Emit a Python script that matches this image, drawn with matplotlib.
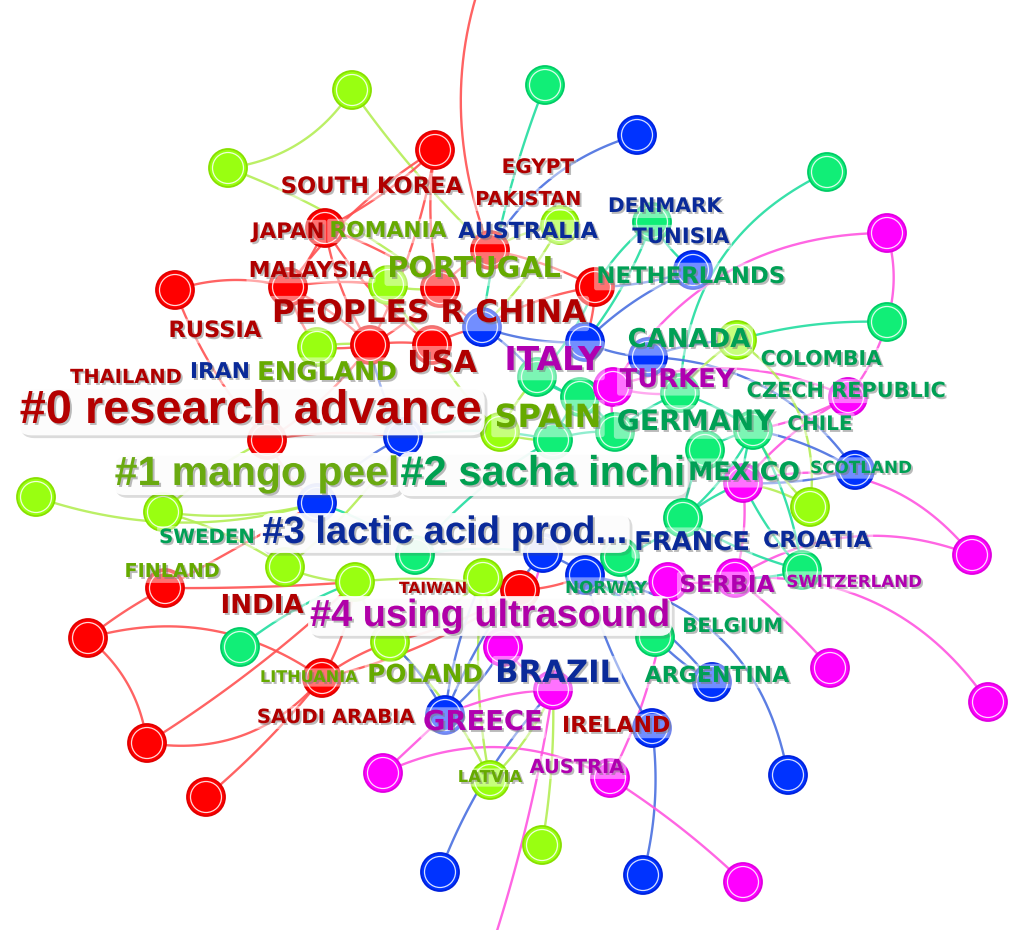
# CiteSpace 风格的国家合作网络 + 聚类标签
import numpy as np
import matplotlib.pyplot as plt
import matplotlib.patheffects as pe
from matplotlib.patches import Circle

# 聚类颜色 (0 红, 1 黄绿, 2 青绿, 3 蓝, 4 品红)
node_colors = ['#ff0000', '#99ff11', '#11ee77', '#0033ff', '#ff00ff']
ring_colors = ['#e00000', '#88e000', '#00cc66', '#0022dd', '#e000e0']
edge_colors = ['#ff5252', '#b4ee55', '#22dda0', '#4a70e0', '#ff55e0']
label_colors = ['#b00000', '#66aa00', '#00a055', '#0a2a99', '#b000b0']

# 节点 (布局坐标)
node_x = [435, 325, 175, 288, 370, 432, 490, 595, 440, 267, 165, 88, 147, 206, 322, 525, 520,
          352, 228, 36, 163, 560, 317, 388, 737, 810, 285, 355, 483, 390, 490, 542, 500,
          545, 827, 887, 652, 240, 537, 580, 680, 753, 553, 683, 620, 802, 655, 415,
          637, 693, 585, 648, 482, 855, 585, 712, 652, 788, 643, 440, 445, 403, 317, 543,
          887, 848, 613, 743, 972, 988, 830, 735, 668, 610, 743, 383, 553, 503, 470,
          615, 705]
node_y = [150, 228, 290, 287, 345, 345, 250, 287, 288, 440, 588, 638, 743, 797, 678, -110, 590,
          90, 168, 497, 512, 225, 347, 285, 340, 507, 567, 582, 578, 642, 780, 845, 432,
          85, 172, 322, 222, 647, 377, 397, 393, 430, 440, 518, 557, 570, 637, 555,
          135, 270, 342, 357, 327, 470, 575, 682, 728, 775, 875, 872, 715, 437, 503, 553,
          233, 397, 387, 483, 555, 702, 668, 578, 582, 778, 882, 773, 690, 647, 1010,
          432, 450]
node_cluster = [0] * 17 + [1] * 16 + [2] * 15 + [3] * 16 + [4] * 15 + [2, 2]

edges = [(18, 17), (17, 6), (18, 8), (0, 3), (0, 4), (0, 8), (0, 1), (15, 6), (2, 3), (2, 9),
         (1, 3), (1, 4), (1, 8), (1, 5), (3, 4), (3, 22), (4, 5), (4, 8), (5, 52), (6, 8),
         (6, 7), (7, 52), (7, 50), (8, 52), (3, 23), (23, 8), (4, 22),
         (10, 11), (10, 27), (10, 62), (11, 12), (11, 14), (12, 14), (12, 27), (13, 14),
         (14, 27), (14, 29), (14, 16), (37, 27), (9, 4), (9, 61), (9, 62), (16, 28), (16, 54),
         (16, 29), (33, 52), (34, 40), (35, 24), (64, 35), (65, 35), (64, 66), (36, 7),
         (36, 50), (36, 49), (48, 6), (49, 50), (51, 53), (66, 65), (68, 67), (68, 71),
         (69, 71), (70, 71), (71, 72), (73, 72), (57, 54), (58, 56), (56, 54), (55, 54),
         (55, 46), (74, 73), (31, 76), (78, 76), (59, 76), (75, 60), (75, 73), (30, 29),
         (30, 28), (30, 76), (24, 25), (19, 62), (20, 26), (20, 62), (20, 9), (21, 6),
         (21, 52), (60, 77), (60, 63), (60, 29), (53, 67), (53, 41), (65, 41), (65, 67),
         (25, 41), (25, 67), (45, 71), (45, 41), (45, 67),
         (52, 50), (52, 38), (50, 51), (51, 40), (38, 39), (39, 66), (66, 40), (40, 41),
         (41, 67), (32, 38), (32, 42), (42, 39), (42, 61), (61, 4), (61, 62), (22, 4),
         (23, 5), (32, 5), (42, 47), (47, 63), (47, 62), (63, 54), (54, 72), (44, 54),
         (44, 43), (43, 67), (43, 41), (46, 72), (46, 54), (46, 44), (77, 63), (77, 28),
         (28, 16), (27, 16), (26, 27), (26, 62), (26, 61), (29, 27), (29, 28), (76, 77),
         (76, 60), (60, 28), (71, 67), (45, 43), (38, 7), (51, 24), (24, 40), (49, 7),
         (79, 39), (79, 40), (79, 42), (80, 41), (80, 43), (80, 67), (66, 79), (38, 79)]

# 个别连线的弯曲程度
edge_bend = {(18, 17): 0.23, (17, 6): 0.05, (15, 6): 0.25, (2, 3): -0.15, (10, 11): 0.05,
             (10, 27): 0.02, (10, 62): 0.0, (11, 12): -0.2, (11, 14): -0.24, (12, 14): 0.28,
             (12, 27): 0.05, (13, 14): 0.05, (33, 52): 0.06, (34, 40): 0.3, (35, 24): 0.08,
             (64, 35): -0.15, (64, 66): 0.28, (48, 6): 0.2, (51, 53): -0.25, (66, 65): -0.2,
             (68, 67): 0.33, (68, 71): 0.25, (69, 71): 0.28, (70, 71): 0.05, (57, 54): 0.35,
             (58, 56): 0.1, (74, 73): 0.05, (31, 76): 0.05, (78, 76): 0.05, (59, 76): -0.1,
             (75, 60): 0.0, (75, 73): -0.25, (24, 25): -0.3, (19, 62): 0.16}

label_text = ['SOUTH KOREA', 'EGYPT', 'PAKISTAN', 'DENMARK', 'JAPAN', 'ROMANIA', 'AUSTRALIA',
              'TUNISIA', 'MALAYSIA', 'PORTUGAL', 'NETHERLANDS', 'PEOPLES R CHINA', 'RUSSIA',
              'CANADA', 'ITALY', 'USA', 'COLOMBIA', 'IRAN', 'ENGLAND', 'THAILAND', 'TURKEY',
              'CZECH REPUBLIC', 'SPAIN', 'GERMANY', 'CHILE', 'MEXICO', 'SCOTLAND', 'SWEDEN',
              'FRANCE', 'CROATIA', 'FINLAND', 'TAIWAN', 'NORWAY', 'SERBIA', 'SWITZERLAND',
              'INDIA', 'BELGIUM', 'POLAND', 'BRAZIL', 'ARGENTINA', 'LITHUANIA', 'SAUDI ARABIA',
              'GREECE', 'IRELAND', 'LATVIA', 'AUSTRIA']
label_cluster = [0, 0, 0, 3, 0, 1, 3, 3, 0, 1, 2, 0, 0, 2, 4, 0, 2, 3, 1, 0, 4, 2, 1, 2, 2, 2,
                 2, 2, 3, 3, 1, 0, 2, 4, 4, 0, 2, 1, 3, 2, 1, 0, 4, 0, 1, 4]
label_x = [372, 538, 528, 665, 288, 388, 528, 681, 311, 474, 691, 429, 215, 689, 553, 442,
           821, 220, 327, 126, 677, 846, 548, 696, 820, 744, 861, 207, 692, 817, 172, 433,
           606, 727, 854, 262, 733, 425, 557, 717, 309, 336, 483, 616, 490, 577]
label_y = [193, 173, 205, 212, 238, 237, 238, 243, 277, 277, 283, 322, 337, 347, 370, 372,
           365, 378, 380, 383, 387, 397, 427, 430, 430, 480, 473, 543, 550, 547, 577, 593,
           593, 592, 587, 613, 632, 682, 682, 682, 682, 723, 730, 732, 782, 773]
label_pt = [16.3, 14.4, 13.9, 14.5, 15.4, 15.7, 16.0, 15.3, 15.8, 20.7, 16.4, 22.5, 16.2,
            18.7, 23.7, 21.8, 14.7, 15.7, 18.6, 14.0, 18.6, 15.0, 23.0, 20.3, 14.4, 18.3,
            12.1, 14.2, 18.6, 16.0, 13.8, 11.1, 12.0, 16.8, 12.0, 18.8, 14.3, 17.9, 22.1,
            15.9, 11.6, 14.1, 19.7, 15.9, 11.8, 14.0]

cluster_text = ['#0 research advance', '#1 mango peel', '#2 sacha inchi',
                '#3 lactic acid prod...', '#4 using ultrasound']
cluster_x = [251, 257, 543, 445, 490]
cluster_y = [423, 485, 485, 543, 626]
cluster_pt = [33.8, 29.5, 30, 27.5, 27.3]
cluster_color = ['#b40000', '#6aaa10', '#00a050', '#0a2a9a', '#b000a8']


def curve(p0, p1, bend, n=40):
    p0, p1 = np.array(p0, float), np.array(p1, float)
    d = p1 - p0
    c = (p0 + p1) / 2 + bend * np.array([-d[1], d[0]])
    t = np.linspace(0, 1, n)[:, None]
    return (1 - t) ** 2 * p0 + 2 * (1 - t) * t * c + t ** 2 * p1


fig = plt.figure(figsize=(10.13, 9.3), dpi=100)
ax = fig.add_axes([0, 0, 1, 1])
ax.set_xlim(0, 1013)
ax.set_ylim(930, 0)
ax.axis('off')

# 连线
for i, (a, b) in enumerate(edges):
    bend = edge_bend.get((a, b), 0.1 if i % 2 else -0.08)
    pts = curve((node_x[a], node_y[a]), (node_x[b], node_y[b]), bend)
    ax.plot(pts[:, 0], pts[:, 1], color=edge_colors[node_cluster[a]], lw=1.7,
            alpha=0.9, solid_capstyle='round', zorder=1)

# 节点
for x, y, c in zip(node_x, node_y, node_cluster):
    ax.add_patch(Circle((x, y), 19, fc=node_colors[c], ec=ring_colors[c], lw=1.3, zorder=2))
    ax.add_patch(Circle((x, y), 15.5, fill=False, ec='white', lw=0.9, alpha=0.85, zorder=2))

# 国家标签
shadow = [pe.withSimplePatchShadow(offset=(1.4, -1.4), shadow_rgbFace='#777777', alpha=0.5)]
for s, x, y, c, pt in zip(label_text, label_x, label_y, label_cluster, label_pt):
    ax.text(x, y, s, ha='center', va='baseline', fontsize=pt, fontweight='bold',
            family='DejaVu Sans', color=label_colors[c], zorder=3, path_effects=shadow,
            bbox=dict(boxstyle='round,pad=0.1', fc='white', ec='none', alpha=0.45))

# 聚类标签
for s, x, y, pt, col in zip(cluster_text, cluster_x, cluster_y, cluster_pt, cluster_color):
    t = ax.text(x, y, s, ha='center', va='baseline', fontsize=pt, fontweight='bold',
                family='Liberation Sans', color=col, zorder=4, path_effects=shadow,
                bbox=dict(boxstyle='round,pad=0.05,rounding_size=0.3', fc='white',
                          ec='none', alpha=0.93))
    t.get_bbox_patch().set_path_effects([pe.SimplePatchShadow(offset=(2, -2), alpha=0.2),
                                         pe.Normal()])

fig.savefig('out.png', dpi=100, facecolor='white')
